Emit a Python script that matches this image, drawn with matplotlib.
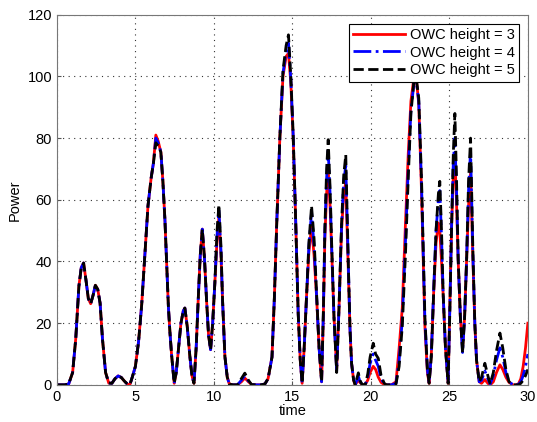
import matplotlib
matplotlib.use("Agg")
import matplotlib.pyplot as plt

plt.rcParams['font.family'] = ['Liberation Sans', 'DejaVu Sans']

# time samples (shared by all three runs)
time = [0, 0.5, 0.75, 1.0, 1.2, 1.4, 1.55, 1.7, 1.85, 2.0, 2.15, 2.3, 2.45, 2.6, 2.75, 2.9, 3.1, 3.3, 3.5, 3.7, 3.9, 4.1, 4.3, 4.5, 4.65,
        4.8, 5.0, 5.2, 5.4, 5.6, 5.8, 6.0, 6.15, 6.3, 6.45, 6.62, 6.75, 6.88, 7.0, 7.1, 7.2, 7.3, 7.47,
        7.6, 7.75, 7.9, 8.05, 8.15, 8.3, 8.47, 8.6, 8.73, 8.87, 9.0, 9.13, 9.26, 9.4, 9.53, 9.66, 9.79, 9.92, 10.06, 10.2, 10.32, 10.45, 10.55, 10.7, 10.85, 10.98,
        11.2, 11.5, 11.75, 11.97, 12.2, 12.4, 12.7, 13.0, 13.25,
        13.45, 13.7, 13.85, 14.0, 14.2, 14.4, 14.6, 14.75, 14.9, 15.05, 15.2, 15.37, 15.5, 15.62,
        15.75, 15.9, 16.05, 16.22, 16.38, 16.54, 16.7, 16.86, 16.97, 17.07, 17.18, 17.28, 17.4, 17.5, 17.65, 17.82, 17.97, 18.13, 18.27, 18.4, 18.55, 18.67, 18.77, 18.9, 19.0, 19.1, 19.2, 19.3, 19.45,
        19.65, 19.8, 19.95, 20.15, 20.3, 20.47, 20.65, 20.85, 21.0, 21.3, 21.6, 21.8, 22.0,
        22.2, 22.38, 22.55, 22.75, 22.9, 23.05, 23.23, 23.44, 23.6, 23.71,
        23.85, 24.0, 24.15, 24.3, 24.39, 24.5, 24.6, 24.75, 24.92, 25.03, 25.14, 25.25, 25.35, 25.45, 25.56, 25.7, 25.84, 25.97, 26.1, 26.22, 26.35, 26.5, 26.62, 26.73, 26.9,
        27.05, 27.26, 27.45, 27.6, 27.8, 28.0, 28.22, 28.4, 28.6, 28.8, 29.06, 29.25, 29.4, 29.55, 29.7, 29.85, 30.0]

power_h3 = [0, 0, 0.3, 4, 15, 32, 38, 39.5, 34, 28, 26.3, 29, 32.3, 31, 26.5, 15, 4, 0.6, 0.5, 2, 2.9, 2.4, 1.2, 0.2, 0.1,
            2.5, 6, 14, 26, 42, 58, 67, 72, 81, 79, 75.5, 66, 53.5, 38, 25.4, 17, 10, 0.5,
            4, 12, 20, 24, 24.9, 19, 9.2, 3, 0.5, 12, 27.6, 42, 50.5, 41, 27.6, 16, 11.4, 20, 33, 47, 54.5, 42, 27.6, 9.2, 2.5, 0.3,
            0, 0, 1, 2.2, 1, 0.1, 0, 0, 0.3,
            2, 9, 28, 52, 80, 100, 106.5, 107.5, 98, 80, 55, 23, 8, 0.5,
            12, 28.6, 43, 51.3, 42, 28.6, 12, 1, 22, 48, 62, 69.7, 58, 44, 22, 5, 25, 50, 62, 65.5, 39.5, 18, 7, 1.5, 0, 0.8, 1.5, 0.8, 0,
            0.2, 1.5, 4, 6, 5, 2.5, 0.8, 0.1, 0, 0, 1, 12, 25,
            52, 75, 92, 100, 99, 91, 62, 19, 4, 0.5,
            10, 30, 46, 52.5, 50, 40, 29.7, 12, 0.5, 25, 51, 68, 74, 60, 40.5, 22, 12, 22, 40.5, 58, 68.6, 40.5, 20, 8, 1,
            0.5, 1.7, 0.5, 0, 1, 4, 6.5, 5, 2.5, 0.8, 0, 0, 0.3, 2, 6, 12, 20]

power_h4 = [0, 0, 0.3, 4, 15, 32, 38, 39.5, 34, 28, 26.3, 29, 32.3, 31, 26.5, 15, 4, 0.6, 0.5, 2, 2.9, 2.4, 1.2, 0.2, 0.1,
            2.5, 6, 14, 26, 42, 58, 67, 72, 80, 78.5, 75.5, 66, 53.5, 38, 25.4, 17, 10, 0.5,
            4, 12, 20, 24, 24.9, 19, 9.2, 3, 0.5, 12, 27.6, 42, 50.5, 41, 27.6, 16, 11.4, 20, 33, 48.5, 56.5, 43.5, 27.6, 9.2, 2.5, 0.3,
            0, 0, 1.5, 3, 1.2, 0.1, 0, 0, 0.3,
            2, 9, 28, 52, 80, 101, 108, 110.8, 99, 81, 55, 23, 8, 0.5,
            12, 28.6, 45, 56, 45, 29, 12, 1, 23, 50, 67, 76, 62, 45, 22, 4.5, 25, 51, 66, 71, 41, 18, 7, 1.5, 0, 1.5, 2.8, 1.2, 0,
            0.2, 2.5, 7, 10, 8, 6, 2, 0.3, 0, 0, 0.5, 8, 21,
            46, 70, 89, 98, 98, 92, 64, 21, 5, 0.5,
            10, 31, 50, 60, 63, 48, 30, 12, 0.5, 25, 52, 72, 80, 64, 40.5, 22, 10.5, 22, 41, 63, 76, 42, 20, 8, 1,
            1.5, 4.5, 2, 0.3, 3, 8, 12, 9, 4, 1, 0, 0, 0.2, 1, 3, 6, 10]

power_h5 = [0, 0, 0.3, 4, 15, 32, 38, 39.5, 34, 28, 26.3, 29, 32.3, 31, 26.5, 15, 4, 0.6, 0.5, 2, 2.9, 2.4, 1.2, 0.2, 0.1,
            2.5, 6, 14, 26, 42, 58, 67, 72, 78.5, 77.5, 75.5, 66, 53.5, 38, 25.4, 17, 10, 0.5,
            4, 12, 20, 24, 24.9, 19, 9.2, 3, 0.5, 12, 27.6, 42, 50.5, 41, 27.6, 16, 11.4, 20, 33, 50, 58.4, 45, 27.6, 9.2, 2.5, 0.3,
            0, 0, 2, 3.8, 1.5, 0.1, 0, 0, 0.3,
            2, 9, 28, 52, 80, 102, 110, 113.5, 100, 81, 55, 23, 8, 0.5,
            12, 28.6, 46, 58, 47.5, 29.5, 12, 1, 23, 51, 70, 79.5, 64, 46, 22, 4, 25, 52, 68, 74.6, 42, 18, 7, 1.5, 0, 2, 3.9, 1.5, 0,
            0.2, 3.5, 9, 13.5, 10, 8.6, 3, 0.5, 0, 0, 0.3, 6, 19,
            42, 67, 88, 99, 99, 93, 66, 22, 5, 0.5,
            9, 30, 50, 62, 66, 50, 30, 12, 0.5, 24, 51, 75, 88, 68, 41, 22, 10.3, 22, 41, 66, 80, 43, 20, 8, 1,
            2.5, 7, 3, 0.3, 4, 11, 16.8, 12, 5, 1, 0, 0, 0, 0.5, 1.5, 3, 5]

labels = ['OWC height = 3', 'OWC height = 4', 'OWC height = 5']

fig = plt.figure(figsize=(5.37, 4.22), dpi=100)
ax = fig.add_axes([0.106, 0.088, 0.877, 0.877])

ax.plot(time, power_h3, color='red', lw=2, ls='-', label=labels[0])
ax.plot(time, power_h4, color='blue', lw=2, ls='-.', label=labels[1])
ax.plot(time, power_h5, color='black', lw=2, ls='--', label=labels[2])

ax.set_xlim(0, 30)
ax.set_ylim(0, 120)
ax.set_xticks(range(0, 31, 5))
ax.set_yticks(range(0, 121, 20))
ax.grid(True, ls=(0, (1, 4)), color='#333333', lw=0.8)
ax.tick_params(direction='in', labelsize=10.5, length=3, color='#555555')
for s in ax.spines.values():
    s.set_color('#777777')

ax.set_xlabel('time', fontsize=10.5, labelpad=0)
ax.set_ylabel('Power', fontsize=10.5, labelpad=4)

leg = ax.legend(loc='upper right', fontsize=10.5, fancybox=False, framealpha=1,
                edgecolor='black', handlelength=3.6, borderaxespad=0.6,
                labelspacing=0.25, handletextpad=0.3, borderpad=0.3)
leg.get_frame().set_linewidth(0.8)

fig.savefig('out.png', dpi=100)
